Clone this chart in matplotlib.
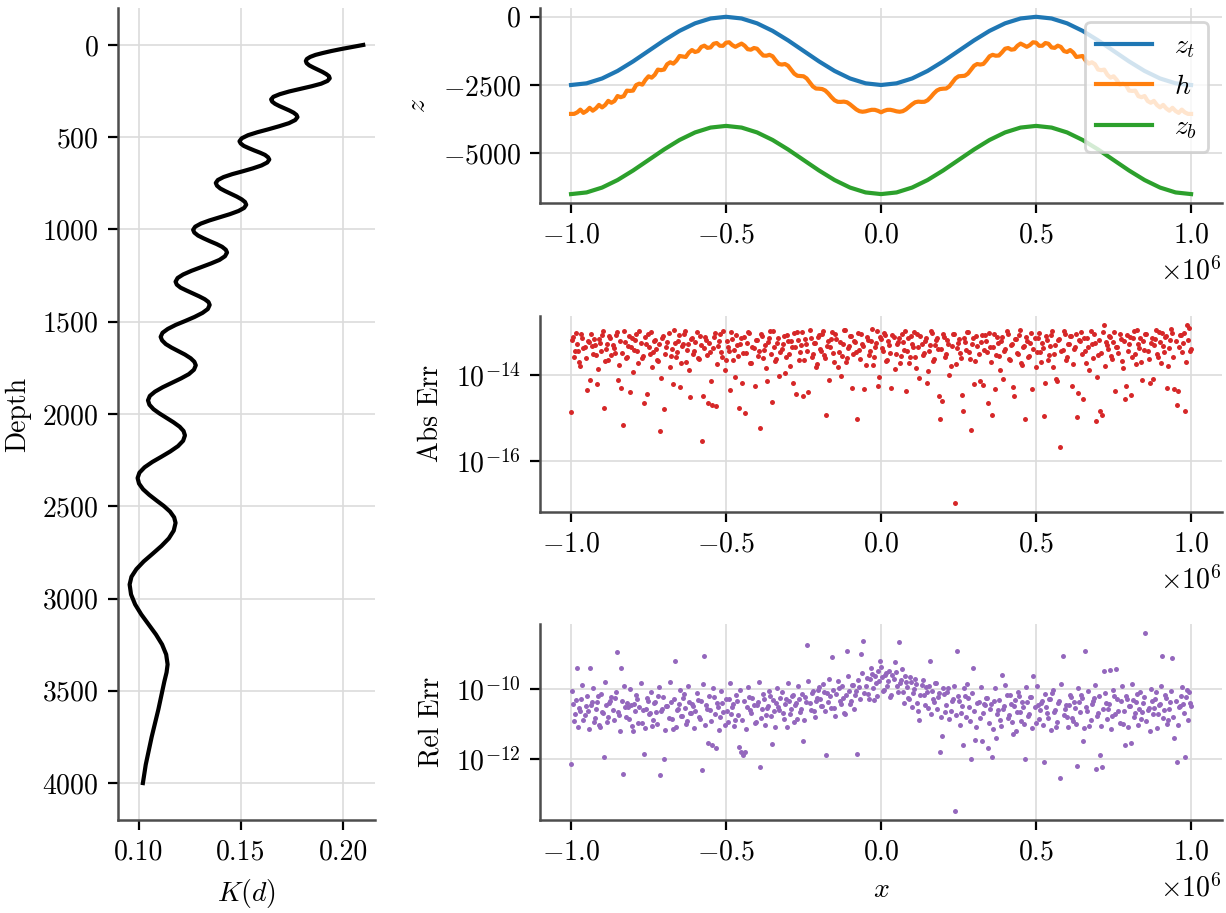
import numpy as np
import matplotlib
matplotlib.use("Agg")
import matplotlib.pyplot as plt
from matplotlib.ticker import NullLocator

# ---- data ----
# diffusivity profile K(d)
depth = [0, 11, 22, 33, 44, 54, 65, 76, 87,
         99, 111, 122, 134, 146, 158, 169, 181,
         195, 210, 224, 238, 252, 267, 281, 295,
         307, 319, 331, 343, 355, 367, 379, 391,
         407, 424, 440, 457, 473, 489, 506, 522,
         534, 547, 559, 572, 584, 596, 609, 621,
         637, 653, 669, 685, 700, 716, 732, 748,
         763, 778, 792, 807, 822, 837, 851, 866,
         883, 900, 917, 934, 951, 968, 985, 1002,
         1017, 1033, 1048, 1064, 1079, 1094, 1110, 1125,
         1145, 1165, 1184, 1204, 1224, 1244, 1263, 1283,
         1299, 1315, 1330, 1346, 1362, 1378, 1393, 1409,
         1431, 1452, 1474, 1496, 1517, 1539, 1560, 1582,
         1601, 1621, 1640, 1659, 1678, 1698, 1717, 1736,
         1760, 1784, 1807, 1831, 1855, 1879, 1902, 1926,
         1950, 1974, 1997, 2021, 2045, 2069, 2092, 2116,
         2145, 2174, 2203, 2232, 2260, 2289, 2318, 2347,
         2377, 2408, 2438, 2469, 2499, 2529, 2560, 2590,
         2632, 2674, 2715, 2757, 2799, 2841, 2882, 2924,
         2978, 3032, 3086, 3141, 3195, 3249, 3303, 3357,
         3400, 3450, 3600, 3750, 3900, 4000]
K = [0.2099, 0.2044, 0.1992, 0.1943, 0.1900, 0.1865, 0.1839, 0.1823, 0.1818,
     0.1822, 0.1835, 0.1854, 0.1877, 0.1899, 0.1918, 0.1931, 0.1935,
     0.1924, 0.1893, 0.1846, 0.1792, 0.1737, 0.1690, 0.1659, 0.1648,
     0.1653, 0.1667, 0.1688, 0.1713, 0.1737, 0.1758, 0.1772, 0.1777,
     0.1766, 0.1735, 0.1689, 0.1635, 0.1581, 0.1535, 0.1504, 0.1493,
     0.1499, 0.1514, 0.1538, 0.1566, 0.1594, 0.1618, 0.1633, 0.1639,
     0.1629, 0.1601, 0.1558, 0.1508, 0.1458, 0.1415, 0.1387, 0.1377,
     0.1383, 0.1399, 0.1423, 0.1452, 0.1480, 0.1504, 0.1520, 0.1526,
     0.1516, 0.1488, 0.1446, 0.1396, 0.1346, 0.1304, 0.1276, 0.1266,
     0.1272, 0.1290, 0.1317, 0.1349, 0.1381, 0.1408, 0.1426, 0.1432,
     0.1422, 0.1395, 0.1354, 0.1306, 0.1258, 0.1217, 0.1190, 0.1180,
     0.1186, 0.1204, 0.1232, 0.1264, 0.1295, 0.1323, 0.1341, 0.1347,
     0.1338, 0.1312, 0.1273, 0.1227, 0.1181, 0.1142, 0.1116, 0.1107,
     0.1114, 0.1132, 0.1160, 0.1193, 0.1226, 0.1254, 0.1272, 0.1279,
     0.1270, 0.1245, 0.1207, 0.1162, 0.1117, 0.1079, 0.1054, 0.1045,
     0.1052, 0.1072, 0.1101, 0.1136, 0.1170, 0.1200, 0.1219, 0.1226,
     0.1217, 0.1192, 0.1154, 0.1110, 0.1066, 0.1028, 0.1003, 0.0994,
     0.1001, 0.1021, 0.1051, 0.1087, 0.1123, 0.1153, 0.1173, 0.1180,
     0.1171, 0.1147, 0.1111, 0.1068, 0.1024, 0.0988, 0.0964, 0.0955,
     0.0962, 0.0982, 0.1012, 0.1048, 0.1084, 0.1114, 0.1134, 0.1141,
     0.1136, 0.1125, 0.1096, 0.1063, 0.1034, 0.1020]

# surfaces, x in units of 1e6
x_coarse = np.linspace(-1.0e6, 1.0e6, 41)
z_t = [-2500, -2439, -2261, -1985, -1636, -1250, -864, -515, -239, -61, 0,
       -61, -239, -515, -864, -1250, -1636, -1985, -2261, -2439, -2500,
       -2439, -2261, -1985, -1636, -1250, -864, -515, -239, -61, 0,
       -61, -239, -515, -864, -1250, -1636, -1985, -2261, -2439, -2500]
z_b = [-6500, -6439, -6261, -5985, -5636, -5250, -4864, -4515, -4239, -4061, -4000,
       -4061, -4239, -4515, -4864, -5250, -5636, -5985, -6261, -6439, -6500,
       -6439, -6261, -5985, -5636, -5250, -4864, -4515, -4239, -4061, -4000,
       -4061, -4239, -4515, -4864, -5250, -5636, -5985, -6261, -6439, -6500]

x_fine = np.linspace(-1.0e6, 1.0e6, 201)
h = [-3560, -3559, -3504, -3403, -3522, -3453, -3337, -3442, -3359, -3230,
     -3322, -3234, -3082, -3152, -3087, -2905, -2947, -2909, -2707, -2717,
     -2705, -2502, -2451, -2487, -2311, -2181, -2231, -2126, -1936, -1956,
     -1933, -1739, -1667, -1717, -1607, -1436, -1453, -1473, -1312, -1218,
     -1290, -1256, -1104, -1058, -1139, -1122, -988, -961, -1061, -1064,
     -949, -934, -1037, -1101, -1039, -982, -1061, -1188, -1206, -1144,
     -1170, -1304, -1419, -1427, -1394, -1446, -1597, -1728, -1751, -1731,
     -1795, -1939, -2085, -2162, -2172, -2181, -2259, -2407, -2553, -2630,
     -2636, -2649, -2703, -2812, -2947, -3060, -3116, -3120, -3110, -3133,
     -3210, -3305, -3396, -3460, -3481, -3466, -3434, -3409, -3411, -3447,
     -3500,
     -3447, -3411, -3409, -3434, -3466, -3481, -3460, -3396, -3305,
     -3210, -3133, -3110, -3120, -3116, -3060, -2947, -2812, -2703, -2649,
     -2636, -2630, -2553, -2407, -2259, -2181, -2172, -2162, -2085, -1939,
     -1795, -1731, -1751, -1728, -1597, -1446, -1394, -1427, -1419, -1304,
     -1170, -1144, -1206, -1188, -1061, -982, -1039, -1101, -1037, -934,
     -949, -1064, -1061, -961, -988, -1122, -1139, -1058, -1104, -1256,
     -1290, -1218, -1312, -1473, -1453, -1436, -1607, -1717, -1667, -1739,
     -1933, -1956, -1936, -2126, -2231, -2181, -2311, -2487, -2451, -2502,
     -2705, -2717, -2707, -2909, -2947, -2905, -3087, -3152, -3082, -3234,
     -3322, -3230, -3359, -3442, -3337, -3453, -3522, -3403, -3504, -3559, -3560]

# errors, given as log10 exponents
# first set sits on a 300-point grid, second set on the midpoints between them
x_err = np.linspace(-1.0e6, 1.0e6, 300)
x_err_mid = (x_err[:-1] + x_err[1:]) / 2

abs_err_exp = [
    -14.85, -13.12, -13.45, -13.28, -13.71, -13.05, -13.39, -13.62, -13.21, -14.12,
    -13.33, -13.18, -13.54, -13.87, -13.26, -13.08, -14.78, -13.41, -13.66, -13.15,
    -13.31, -13.49, -13.02, -13.77, -14.31, -15.17, -13.24, -13.58, -13.11, -13.36,
    -13.93, -13.19, -13.44, -12.98, -13.62, -14.66, -13.29, -13.07, -13.51, -13.83,
    -13.22, -13.40, -13.69, -15.31, -13.14, -14.80, -13.35, -13.03, -13.57, -14.21,
    -13.27, -13.47, -13.09, -13.74, -13.30, -12.99, -13.42, -13.88, -13.17, -13.53,
    -13.25, -13.61, -13.10, -15.52, -13.38, -13.20, -14.66, -13.48, -14.70, -13.13,
    -14.73, -13.34, -13.06, -13.58, -13.90, -13.23, -13.45, -13.01, -13.67, -14.05,
    -13.32, -14.76, -13.16, -13.50, -14.89, -13.27, -13.04, -13.72, -13.39, -13.19,
    -13.56, -15.22, -13.11, -13.43, -13.85, -13.24, -13.00, -14.62, -13.36, -13.63,
    -13.14, -13.47, -13.29, -13.95, -13.08, -13.53, -13.21, -14.18, -13.37, -13.02,
    -13.66, -13.31, -14.48, -13.18, -13.44, -12.97, -13.59, -13.26, -13.81, -13.12,
    -13.40, -13.06, -13.55, -14.92, -13.23, -13.35, -13.01, -13.70, -13.17, -13.48,
    -14.02, -13.28, -12.96, -13.62, -13.34, -13.10, -13.52, -13.25, -15.03, -13.42,
    -13.05, -13.33, -13.78, -13.19, -13.46, -12.95, -13.60, -13.27, -14.25, -13.13,
    -13.39, -13.03, -13.68, -13.22, -13.50, -13.09, -13.86, -13.30, -13.15, -13.57,
    -13.24, -12.99, -13.44, -13.73, -13.11, -13.36, -13.58, -13.07, -14.08, -13.29,
    -13.49, -13.16, -13.92, -13.32, -13.04, -13.64, -13.20, -13.41, -15.03, -14.61,
    -13.12, -13.53, -13.28, -13.80, -13.06, -16.96, -13.38, -13.18, -13.61, -14.83,
    -13.25, -13.02, -13.47, -15.27, -13.14, -13.69, -13.33, -14.15, -13.09, -13.42,
    -13.21, -14.66, -13.37, -14.94, -13.05, -13.55, -13.26, -13.88, -13.13, -13.45,
    -13.00, -13.63, -13.31, -14.28, -13.17, -13.50, -13.08, -13.74, -13.35, -15.03,
    -13.22, -13.57, -13.04, -13.40, -13.83, -13.15, -13.48, -13.27, -14.95, -13.11,
    -13.65, -13.34, -12.98, -13.52, -14.10, -13.19, -15.66, -13.43, -13.07, -13.60,
    -13.28, -13.10, -13.76, -13.37, -14.97, -13.20, -13.02, -14.56, -13.46, -13.16,
    -13.90, -13.30, -13.05, -15.06, -13.55, -14.83, -14.93, -12.85, -13.24, -13.41,
    -13.12, -13.64, -13.01, -13.35, -13.49, -13.18, -13.84, -14.56, -13.08, -13.29,
    -14.47, -13.14, -13.53, -12.97, -13.38, -13.70, -13.22, -13.06, -13.44, -14.20,
    -13.15, -13.32, -12.96, -13.58, -13.25, -13.04, -13.47, -13.11, -13.79, -13.20,
    -13.03, -14.33, -14.71, -13.36, -13.09, -13.27, -14.83, -12.85, -12.93, -13.40]
abs_err_mid_exp = [
    -13.20, -13.58, -13.03, -13.44, -13.79, -13.14, -13.36, -14.35, -13.25, -13.07,
    -13.52, -13.31, -14.22, -13.17, -13.46, -13.00, -13.68, -13.29, -13.11, -13.55,
    -13.38, -13.09, -14.12, -13.23, -13.49, -12.99, -13.61, -13.33, -14.40, -13.15,
    -13.42, -13.05, -13.74, -13.27, -13.57, -13.13, -14.45, -13.35, -13.02, -13.47,
    -13.19, -13.65, -13.30, -14.08, -13.10, -13.51, -13.24, -13.82, -13.40, -12.97,
    -13.59, -13.21, -14.28, -13.34, -13.06, -13.71, -13.28, -14.52, -13.16, -13.45,
    -13.01, -13.63, -13.32, -14.50, -13.12, -13.54, -13.26, -14.15, -13.39, -13.04,
    -13.76, -13.22, -13.48, -12.98, -13.66, -13.35, -14.35, -13.18, -13.43, -13.08,
    -13.56, -13.29, -14.20, -13.13, -13.50, -13.02, -13.73, -13.37, -14.27, -13.20,
    -13.46, -13.07, -13.62, -13.31, -14.15, -13.15, -13.53, -12.99, -13.69, -13.26,
    -14.03, -13.41, -13.10, -13.58, -13.23, -13.80, -13.36, -13.04, -14.44, -13.19,
    -13.47, -13.01, -13.67, -13.30, -14.40, -13.14, -13.52, -13.27, -13.75, -13.09,
    -13.44, -13.00, -13.61, -13.33, -14.12, -13.18, -13.49, -13.06, -13.83, -13.25,
    -13.56, -12.97, -13.70, -13.39, -13.11, -14.30, -13.22, -13.47, -13.03, -13.64,
    -13.28, -14.33, -13.13, -13.54, -13.21, -13.78, -13.35, -13.00, -14.06, -13.17,
    -13.45, -13.08, -13.66, -13.32, -14.30, -13.12, -13.51, -13.24, -13.73, -13.05,
    -13.42, -14.38, -13.15, -13.60, -13.29, -13.02, -13.85, -13.37, -13.10, -13.55,
    -13.23, -14.18, -13.46, -12.98, -13.68, -13.31, -13.14, -14.50, -13.40, -13.07,
    -13.58, -13.20, -14.01, -13.34, -13.06, -13.75, -13.27, -13.50, -14.46, -13.16,
    -13.43, -13.01, -13.63, -13.30, -14.22, -13.11, -13.53, -13.25, -14.24, -13.09,
    -13.47, -13.03, -13.70, -13.36, -14.33, -13.13, -13.57, -13.22, -14.10, -13.41,
    -13.05, -13.65, -13.28, -14.48, -13.18, -13.52, -12.96, -13.77, -13.33, -13.12,
    -13.60, -13.26, -14.34, -13.15, -13.48, -13.04, -13.71, -13.38, -14.20, -13.20,
    -13.55, -13.08, -13.82, -13.31, -14.14, -13.17, -13.44, -13.00, -13.67, -13.29,
    -13.10, -14.25, -13.40, -13.06, -14.42, -13.23, -13.53, -13.14, -13.74, -13.35,
    -12.98, -13.62, -13.27, -14.05, -13.19, -13.49, -13.02, -13.80, -13.32, -13.11,
    -13.57, -13.24, -14.38, -13.37, -13.07, -13.68, -13.21, -14.26, -13.45, -13.13,
    -13.59, -12.99, -13.76, -13.30, -13.16, -14.12, -13.43, -13.05, -13.64, -13.26,
    -14.09, -13.18, -13.51, -13.01, -13.72, -13.34, -13.12, -14.30, -13.39, -12.95,
    -13.60, -13.22, -14.37, -13.08, -13.48, -13.03, -13.70, -13.19, -13.44]

rel_err_exp = [
    -12.15, -10.42, -10.71, -9.40, -10.55, -10.30, -10.88, -10.49, -10.62, -9.40,
    -10.37, -10.95, -10.58, -10.21, -11.10, -10.66, -11.95, -10.47, -10.80, -10.33,
    -10.60, -10.25, -8.95, -10.74, -9.40, -12.44, -10.52, -10.39, -10.86, -10.45,
    -11.20, -10.63, -10.28, -10.51, -10.97, -11.85, -10.57, -10.34, -10.69, -11.05,
    -10.41, -10.66, -10.19, -12.47, -10.58, -12.00, -10.48, -10.82, -10.36, -11.15,
    -9.21, -10.61, -10.44, -10.77, -10.26, -10.55, -10.92, -10.38, -10.70, -10.50,
    -10.64, -10.32, -10.87, -12.33, -9.06, -10.46, -11.56, -10.59, -11.60, -10.24,
    -11.70, -10.53, -10.79, -10.40, -11.02, -10.62, -10.29, -10.73, -10.44, -10.90,
    -10.35, -11.65, -11.82, -11.90, -11.80, -10.51, -10.23, -10.68, -10.45, -10.96,
    -10.38, -12.25, -10.57, -10.30, -10.74, -10.48, -10.20, -11.58, -10.63, -10.41,
    -10.52, -10.27, -10.70, -10.43, -11.08, -10.33, -10.58, -10.18, -10.47, -10.85,
    -10.29, -10.56, -11.50, -10.22, -8.74, -10.40, -10.11, -10.64, -10.35, -10.02,
    -10.30, -10.48, -10.09, -11.89, -10.37, -10.21, -9.09, -10.55, -10.14, -9.96,
    -10.42, -10.26, -10.73, -8.92, -10.06, -10.33, -9.88, -10.18, -11.85, -9.95,
    -9.00, -8.63, -9.92, -10.15, -9.70, -9.58, -10.31, -9.82, -9.47, -9.21,
    -9.66, -10.02, -9.55, -9.78, -10.24, -9.61, -9.23, -9.90, -8.66, -9.74,
    -10.08, -9.62, -9.95, -10.30, -9.80, -10.12, -9.71, -10.40, -10.90, -9.88,
    -10.17, -9.93, -10.55, -9.21, -10.05, -10.36, -9.84, -10.22, -11.82, -11.35,
    -10.14, -10.47, -9.98, -10.62, -10.28, -13.50, -8.92, -10.35, -10.70, -11.60,
    -10.21, -9.86, -10.52, -12.02, -9.41, -11.45, -10.39, -10.83, -11.50, -10.44,
    -10.27, -11.70, -10.58, -11.95, -10.34, -11.40, -10.61, -10.88, -9.60, -10.49,
    -10.16, -10.75, -10.42, -11.30, -10.31, -10.66, -10.20, -10.93, -10.53, -12.00,
    -10.38, -10.71, -10.24, -9.64, -10.97, -10.45, -10.60, -10.33, -12.08, -10.52,
    -10.84, -10.29, -10.12, -10.67, -11.10, -10.41, -12.56, -9.06, -10.56, -10.80,
    -10.47, -10.22, -10.91, -10.55, -12.22, -10.36, -10.18, -11.50, -8.92, -10.63,
    -11.05, -10.44, -10.27, -12.30, -10.70, -11.90, -12.25, -9.47, -10.39, -10.58,
    -9.45, -10.76, -10.21, -9.42, -10.64, -10.35, -10.99, -11.60, -10.28, -10.50,
    -11.55, -10.32, -10.69, -10.14, -10.57, -10.85, -10.40, -8.39, -10.61, -11.20,
    -10.33, -10.55, -10.09, -10.72, -10.42, -9.06, -10.60, -10.25, -10.88, -10.38,
    -9.12, -11.40, -12.08, -10.51, -10.19, -10.44, -11.95, -10.02, -10.10, -10.48]
rel_err_mid_exp = [
    -10.05, -10.92, -10.31, -11.08, -10.62, -9.88, -10.74, -10.20, -11.15, -10.47,
    -9.96, -10.83, -10.38, -11.02, -10.13, -10.68, -9.79, -10.95, -10.41, -10.24,
    -10.88, -10.10, -10.66, -11.20, -10.34, -9.92, -10.79, -10.52, -10.01, -11.06,
    -10.44, -10.18, -10.97, -9.84, -10.60, -11.12, -10.27, -10.71, -10.08, -10.90,
    -10.36, -11.01, -9.95, -10.64, -10.22, -11.17, -10.49, -9.81, -10.86, -10.30,
    -11.09, -10.57, -10.04, -10.78, -10.15, -10.99, -9.90, -10.69, -10.42, -11.13,
    -10.12, -10.80, -10.33, -9.86, -11.04, -10.58, -10.21, -10.93, -9.98, -10.72,
    -10.39, -11.18, -10.06, -10.65, -10.28, -10.96, -9.83, -10.51, -11.07, -10.17,
    -10.75, -10.02, -10.89, -10.35, -11.14, -9.93, -10.61, -10.25, -10.98, -10.46,
    -9.80, -10.84, -10.14, -11.03, -10.55, -10.07, -10.77, -10.32, -11.10, -9.97,
    -10.60, -10.09, -10.85, -10.30, -9.82, -10.71, -10.19, -10.96, -10.40, -9.90,
    -10.66, -10.13, -10.88, -10.37, -9.76, -10.59, -10.05, -10.79, -10.26, -9.95,
    -10.48, -9.85, -10.62, -10.11, -9.70, -10.55, -10.02, -10.77, -9.78, -10.35,
    -9.92, -10.68, -10.16, -9.64, -10.44, -9.88, -10.58, -10.07, -9.74, -10.29,
    -9.55, -10.12, -9.68, -10.30, -9.41, -9.97, -9.62, -10.21, -9.78, -9.36,
    -10.05, -9.59, -9.90, -9.47, -10.18, -9.70, -9.52, -10.08, -9.83, -9.44,
    -10.40, -9.80, -10.25, -9.66, -10.52, -10.01, -9.87, -10.63, -10.18, -9.74,
    -10.47, -10.09, -9.92, -10.71, -10.30, -9.83, -10.58, -10.12, -10.79, -9.96,
    -10.66, -10.08, -10.85, -10.34, -9.90, -10.74, -10.21, -11.02, -10.50, -9.97,
    -10.80, -10.27, -10.93, -10.12, -10.62, -11.08, -10.38, -9.93, -10.70, -10.45,
    -10.25, -10.97, -10.44, -11.15, -9.98, -10.72, -10.31, -11.06, -10.56, -9.89,
    -10.83, -10.18, -10.94, -10.48, -11.20, -10.09, -10.67, -10.36, -11.01, -9.94,
    -10.78, -10.22, -11.11, -10.53, -9.91, -10.86, -10.40, -11.03, -10.14, -10.69,
    -10.29, -11.17, -10.04, -10.61, -10.95, -10.33, -9.86, -10.74, -10.46, -11.09,
    -10.16, -10.82, -10.38, -11.00, -9.96, -10.65, -10.27, -11.13, -10.51, -10.07,
    -10.90, -10.35, -9.88, -10.76, -10.20, -11.05, -10.58, -10.11, -10.87, -10.43,
    -11.16, -10.02, -10.71, -10.30, -10.97, -9.92, -10.63, -10.19, -11.08, -10.49,
    -9.85, -10.81, -10.37, -11.02, -10.10, -10.66, -10.24, -10.92, -10.54, -9.99,
    -10.73, -10.28, -11.12, -10.45, -9.90, -10.84, -10.17, -10.99, -10.58, -10.06,
    -10.79, -10.33, -11.04, -10.50, -9.95, -10.69, -10.22, -10.88, -10.41]

plt.rcParams.update({
    'font.family': 'serif',
    'font.serif': ['cmr10'],
    'mathtext.fontset': 'cm',
    'axes.formatter.use_mathtext': True,
    'font.size': 10,
    'axes.spines.top': False,
    'axes.spines.right': False,
    'axes.edgecolor': '0.3',
    'axes.linewidth': 0.9,
    'axes.grid': True,
    'axes.axisbelow': True,
    'grid.color': '0.86',
    'grid.linewidth': 0.6,
})

fig = plt.figure(figsize=(6.13, 4.565), dpi=200)

# left: K(d) profile
ax0 = fig.add_axes([0.0962, 0.1019, 0.2096, 0.8893])
ax0.plot(K, depth, color='k', lw=1.5, solid_joinstyle='round')
ax0.invert_yaxis()
ax0.set_yticks(np.arange(0, 4001, 500))
ax0.set_xticks([0.10, 0.15, 0.20])
ax0.set_xticklabels(['0.10', '0.15', '0.20'])
ax0.set_xlabel(r'$K(d)$')
ax0.set_ylabel('Depth')

# right top: surfaces
ax1 = fig.add_axes([0.4405, 0.7777, 0.5563, 0.2136])
ax1.plot(x_coarse, z_t, color='#1f77b4', lw=1.5, label=r'$z_t$')
ax1.plot(x_fine, h, color='#ff7f0e', lw=1.5, label=r'$h$')
ax1.plot(x_coarse, z_b, color='#2ca02c', lw=1.5, label=r'$z_b$')
ax1.set_yticks([0, -2500, -5000])
ax1.set_ylabel(r'$z$')
ax1.legend(loc='upper right')

# right middle: absolute error
ax2 = fig.add_axes([0.4405, 0.4395, 0.5563, 0.2143])
ax2.scatter(x_err, 10.0 ** np.array(abs_err_exp), s=3.2, color='#d62728', linewidths=0)
ax2.scatter(x_err_mid, 10.0 ** np.array(abs_err_mid_exp), s=3.2, color='#d62728', linewidths=0)
ax2.set_yscale('log')
ax2.set_yticks([1e-16, 1e-14])
ax2.yaxis.set_minor_locator(NullLocator())
ax2.set_ylabel('Abs Err')

# right bottom: relative error
ax3 = fig.add_axes([0.4405, 0.1019, 0.5563, 0.2147])
ax3.scatter(x_err, 10.0 ** np.array(rel_err_exp), s=3.2, color='#9467bd', linewidths=0)
ax3.scatter(x_err_mid, 10.0 ** np.array(rel_err_mid_exp), s=3.2, color='#9467bd', linewidths=0)
ax3.set_yscale('log')
ax3.set_yticks([1e-12, 1e-10])
ax3.yaxis.set_minor_locator(NullLocator())
ax3.set_ylabel('Rel Err')
ax3.set_xlabel(r'$x$')

for ax in (ax1, ax2, ax3):
    ax.set_xticks([-1.0e6, -0.5e6, 0.0, 0.5e6, 1.0e6])

fig.savefig('out.png', dpi=200)
